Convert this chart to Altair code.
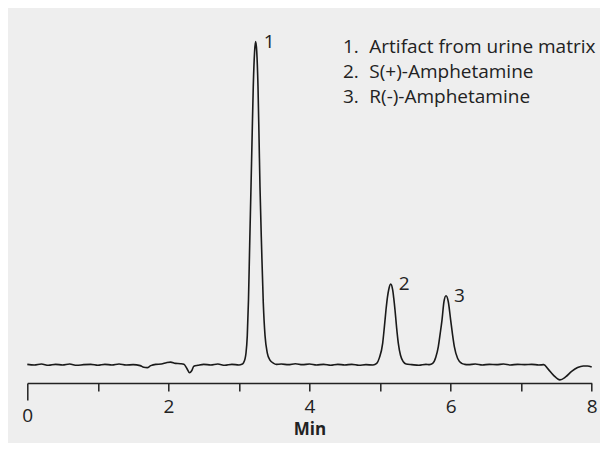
import altair as alt
import pandas as pd

# ---- trace (time in min, signal in relative units) ----
time_min = [
    0.00, 0.10, 0.20, 0.30, 0.40, 0.50, 0.60, 0.70, 0.80, 0.90,
    1.00, 1.10, 1.20, 1.30, 1.40, 1.50, 1.60, 1.65, 1.70, 1.75,
    1.82, 1.90, 1.97, 2.03, 2.10, 2.17, 2.22, 2.26, 2.30, 2.33,
    2.36, 2.42, 2.50, 2.60, 2.70, 2.80, 2.90, 3.00, 3.04,
    3.062, 3.085, 3.100, 3.118, 3.135, 3.152, 3.171, 3.188, 3.203, 3.222,
    3.237, 3.252, 3.270, 3.285, 3.298, 3.322, 3.345, 3.370, 3.402, 3.440,
    3.487, 3.530, 3.60, 3.70, 3.80, 3.90, 4.00, 4.10, 4.20, 4.30,
    4.40, 4.50, 4.60, 4.70, 4.80, 4.90,
    4.953, 4.990, 5.037, 5.060, 5.084, 5.105, 5.122, 5.151, 5.179, 5.195,
    5.212, 5.235, 5.259, 5.290, 5.330, 5.370, 5.45, 5.55, 5.65, 5.70,
    5.746, 5.790, 5.826, 5.853, 5.878, 5.906, 5.935, 5.967, 6.001, 6.027,
    6.053, 6.100, 6.157, 6.200, 6.25, 6.35, 6.45, 6.55, 6.65, 6.75,
    6.85, 6.95, 7.05, 7.15, 7.25, 7.32, 7.38, 7.46, 7.55, 7.63,
    7.72, 7.80, 7.88, 7.94, 8.00,
]
signal = [
    0.2, 0.0, 0.3, -0.1, 0.2, 0.0, 0.3, -0.1, 0.1, 0.2,
    -0.1, 0.2, 0.0, 0.3, 0.0, 0.1, -0.2, -0.7, -0.8, -0.2,
    0.2, 0.3, 0.7, 0.9, 0.5, 0.4, 0.2, -1.0, -2.4, -1.8,
    -0.4, -0.1, 0.2, 0.0, 0.3, -0.1, 0.2, 0.0, 0.2,
    0.6, 1.8, 3.7, 9.0, 20.0, 37.0, 55.2, 72.0, 86.1, 97.0,
    100.0, 97.0, 86.1, 70.0, 55.2, 35.6, 19.2, 9.0, 3.7, 1.5,
    0.6, 0.2, 0.3, 0.1, 0.4, 0.1, 0.3, 0.0, 0.2, -0.1,
    0.2, 0.0, 0.2, -0.1, 0.1, 0.0,
    0.5, 2.2, 6.7, 11.5, 17.0, 21.0, 23.2, 25.0, 23.2, 20.5,
    17.0, 11.5, 6.7, 3.0, 1.0, 0.3, 0.1, -0.1, 0.2, 0.1,
    0.5, 2.4, 5.7, 9.8, 13.9, 19.6, 21.4, 19.6, 13.9, 9.5,
    5.7, 2.0, 0.5, 0.2, 0.1, 0.3, 0.0, 0.2, 0.1, 0.3,
    0.0, 0.2, 0.1, 0.2, 0.0, 0.1, -1.2, -3.2, -4.6, -3.7,
    -1.9, -0.8, -0.3, -0.3, -0.6,
]

peak_ids = ["1", "2", "3"]
peak_time = [3.237, 5.151, 5.935]
peak_height = [100.0, 25.0, 21.4]

legend_nums = ["1.", "2.", "3."]
legend_names = ["Artifact from urine matrix", "S(+)-Amphetamine", "R(-)-Amphetamine"]

x_ticks = [0, 1, 2, 3, 4, 5, 6, 7, 8]
x_title = "Min"

trace = pd.DataFrame({"t": time_min, "v": signal})
peaks = pd.DataFrame({"id": peak_ids, "t": peak_time, "v": peak_height})
legend = pd.DataFrame({"num": legend_nums, "name": legend_names, "row": [0, 1, 2]})

W, H = 564.4, 363
FONT = "Open Sans"
INK = "#222222"

xscale = alt.Scale(domain=[0, 8], nice=False)
yscale = alt.Scale(domain=[-5.57, 106.7], nice=False, zero=False)

line = alt.Chart(trace).mark_line(color="#1a1a1a", strokeWidth=1.6, interpolate="monotone").encode(
    x=alt.X("t:Q", scale=xscale, title=x_title,
            axis=alt.Axis(values=x_ticks, grid=False, format="d",
                          labelExpr="datum.value % 2 == 0 ? datum.label : ''",
                          domainColor=INK, domainWidth=1.5,
                          tickColor=INK, tickWidth=1.5,
                          tickSize={"condition": {"test": "datum.value == 0", "value": 17}, "value": 8},
                          labelFont=FONT, labelFontSize=19, labelColor=INK, labelPadding=6,
                          labelFlush=False,
                          titleFont=FONT, titleFontSize=17, titleFontWeight="bold",
                          titleColor=INK, titlePadding=-4)),
    y=alt.Y("v:Q", scale=yscale, axis=None),
)

peak_labels = alt.Chart(peaks).mark_text(
    align="left", baseline="alphabetic", dx=8, dy=6, font=FONT, fontSize=19, color=INK
).encode(x=alt.X("t:Q", scale=xscale), y=alt.Y("v:Q", scale=yscale), text="id:N")

leg_base = alt.Chart(legend).transform_calculate(yv="96.6 - 7.83 * datum.row")

leg_nums = leg_base.mark_text(
    align="left", baseline="alphabetic", font=FONT, fontSize=19, color=INK
).encode(x=alt.value(315.7), y=alt.Y("yv:Q", scale=yscale), text="num:N")

leg_names = leg_base.mark_text(
    align="left", baseline="alphabetic", font=FONT, fontSize=19, color=INK
).encode(x=alt.value(342), y=alt.Y("yv:Q", scale=yscale), text="name:N")

chart = alt.layer(line, peak_labels, leg_nums, leg_names).properties(
    width=W, height=H,
    background="#eeeeee",
    autosize=alt.AutoSizeParams(type="none"),
    padding={"left": 19.3, "top": 12, "right": 8.3, "bottom": 60},
).configure_view(stroke=None)

chart.save("out.html", embed_options={"renderer": "svg", "actions": False})
